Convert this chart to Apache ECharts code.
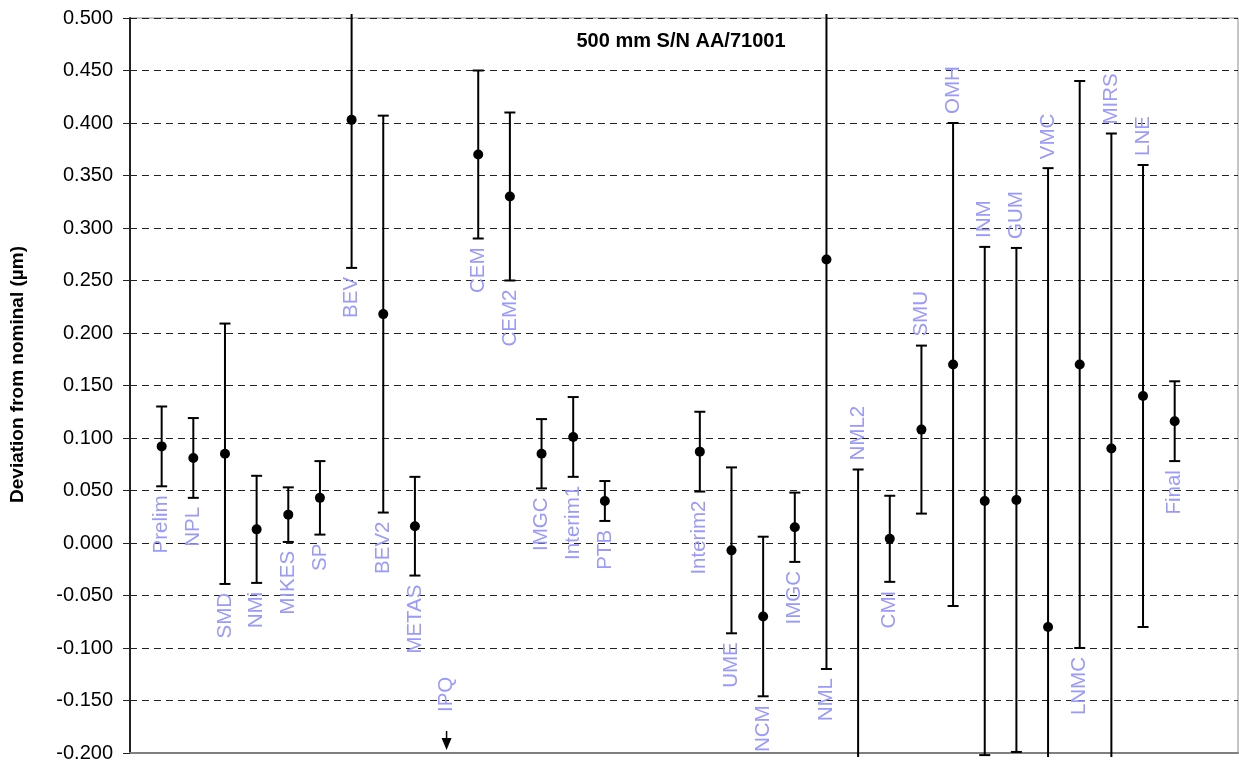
<!DOCTYPE html>
<html>
<head>
<meta charset="utf-8">
<title>500 mm S/N AA/71001</title>
<script src="https://cdn.jsdelivr.net/npm/echarts@6/dist/echarts.min.js"></script>
<style>
  html, body { margin: 0; padding: 0; background: #fff; }
  #main { width: 1239px; height: 764px; }
</style>
</head>
<body>
<div id="main"></div>
<script>
// slots along the x axis ('' = empty slot)
const categories = ['', 'Prelim', 'NPL', 'SMD', 'NMi', 'MIKES', 'SP', 'BEV', 'BEV2', 'METAS', 'IPQ',
  'CEM', 'CEM2', 'IMGC', 'Interim1', 'PTB', '', '', 'Interim2', 'UME', 'NCM', 'IMGC', 'NML', 'NML2',
  'CMI', 'SMU', 'OMH', 'INM', 'GUM', 'VMC', 'LNMC', 'MIRS', 'LNE', 'Final', '', '']
const means = [null, 0.092, 0.081, 0.085, 0.013, 0.027, 0.043, 0.403, 0.218, 0.016, null,
  0.370, 0.330, 0.085, 0.101, 0.040, null, null, 0.087, -0.007, -0.070, 0.015, 0.270, -0.230,
  0.004, 0.108, 0.170, 0.040, 0.041, -0.080, 0.170, 0.090, 0.140, 0.116, null, null]
const upperEnds = [null, 0.130, 0.119, 0.209, 0.064, 0.053, 0.078, 0.544, 0.407, 0.063, null,
  0.450, 0.410, 0.118, 0.139, 0.059, null, null, 0.125, 0.072, 0.006, 0.048, 0.660, 0.070,
  0.045, 0.188, 0.400, 0.282, 0.281, 0.357, 0.440, 0.390, 0.360, 0.154, null, null]
const lowerEnds = [null, 0.054, 0.043, -0.039, -0.038, 0.001, 0.008, 0.262, 0.029, -0.031, null,
  0.290, 0.250, 0.052, 0.063, 0.021, null, null, 0.049, -0.086, -0.146, -0.018, -0.120, -0.530,
  -0.037, 0.028, -0.060, -0.202, -0.199, -0.517, -0.100, -0.210, -0.080, 0.078, null, null]
// result below the bottom of the scale, shown with an arrow
const belowScale = ['IPQ']
// y axis ticks
const yMin = -0.2
const yMax = 0.5
const yStep = 0.05

// labels written above the upper end instead of under the lower end
const labelsAbove = ['NML2', 'SMU', 'OMH', 'INM', 'GUM', 'VMC', 'MIRS', 'LNE']
const labelColor = '#9999ff'
const labelFont = '20.5px "Liberation Sans", Arial, sans-serif'

const barData = []
categories.forEach((c, i) => {
  if (c && means[i] != null) barData.push([i, means[i], upperEnds[i], lowerEnds[i]])
})
const arrowData = []
categories.forEach((c, i) => {
  if (belowScale.indexOf(c) >= 0) arrowData.push([i, yMin])
})

function labelEl(text, x, y, above) {
  return {
    type: 'text',
    x: x,
    y: y,
    rotation: Math.PI / 2,
    style: {
      text: text,
      fill: labelColor,
      font: labelFont,
      align: above ? 'left' : 'right',
      verticalAlign: 'middle',
    },
  }
}

function renderBar(params, api) {
  const i = api.value(0)
  const cs = params.coordSys
  const top = cs.y
  const bottom = cs.y + cs.height
  const x = api.coord([i, 0])[0]
  const yM = api.coord([i, api.value(1)])[1]
  const yHi = api.coord([i, api.value(2)])[1]
  const yLo = api.coord([i, api.value(3)])[1]
  const y1 = Math.max(yHi, top - 4)
  const y2 = Math.min(yLo, bottom + 4)
  const lineStyle = { stroke: '#000', lineWidth: 2 }
  const children = [
    { type: 'line', shape: { x1: x, y1: y1, x2: x, y2: y2 }, style: lineStyle },
  ]
  if (yHi >= top - 4) {
    children.push({ type: 'line', shape: { x1: x - 5.5, y1: yHi, x2: x + 5.5, y2: yHi }, style: lineStyle })
  }
  if (yLo <= bottom + 4) {
    children.push({ type: 'line', shape: { x1: x - 5.5, y1: yLo, x2: x + 5.5, y2: yLo }, style: lineStyle })
  }
  if (yM >= top && yM <= bottom) {
    children.push({ type: 'circle', shape: { cx: x, cy: yM, r: 5 }, style: { fill: '#000' } })
  }
  const name = categories[i]
  const above = labelsAbove.indexOf(name) >= 0
  children.push(labelEl(name, x, above ? yHi - 9 : yLo + 9, above))
  return { type: 'group', children: children }
}

function renderArrow(params, api) {
  const i = api.value(0)
  const p = api.coord([i, api.value(1)])
  const x = p[0]
  const yb = p[1] - 3
  return {
    type: 'group',
    children: [
      { type: 'line', shape: { x1: x, y1: yb - 19, x2: x, y2: yb - 10 }, style: { stroke: '#000', lineWidth: 1.5 } },
      { type: 'polygon', shape: { points: [[x - 5, yb - 12], [x + 5, yb - 12], [x, yb]] }, style: { fill: '#000' } },
      labelEl(categories[i], x, yb - 38, true),
    ],
  }
}

const myChart = echarts.init(document.getElementById('main'))
const option = {
  backgroundColor: '#fff',
  animation: false,
  textStyle: { fontFamily: '"Liberation Sans", Arial, sans-serif' },
  graphic: [
    {
      type: 'text',
      x: 681,
      y: 41,
      style: {
        text: '500 mm S/N AA/71001',
        font: 'bold 20px "Liberation Sans", Arial, sans-serif',
        fill: '#000',
        align: 'center',
        verticalAlign: 'middle',
      },
    },
  ],
  grid: {
    left: 129,
    right: 1,
    top: 18,
    bottom: 11,
    show: true,
    borderColor: '#8c8c8c',
    borderWidth: 1,
    backgroundColor: '#fff',
  },
  xAxis: {
    type: 'value',
    min: 0,
    max: categories.length - 1,
    axisLine: { show: true, onZero: false, lineStyle: { color: '#7f7f7f', width: 2 } },
    axisTick: { show: false },
    axisLabel: { show: false },
    splitLine: { show: false },
  },
  yAxis: {
    type: 'value',
    min: yMin,
    max: yMax,
    interval: yStep,
    name: 'Deviation from nominal (µm)',
    nameLocation: 'middle',
    nameGap: 103,
    nameTextStyle: { fontSize: 19, fontWeight: 'bold', color: '#000', padding: [0, 0, 0, 22] },
    axisLine: { show: true, onZero: false, lineStyle: { color: '#222', width: 2 } },
    axisTick: { show: true, length: 7, lineStyle: { color: '#222' } },
    axisLabel: {
      fontSize: 20,
      color: '#000',
      margin: 17,
      formatter: (v) => v.toFixed(3),
    },
    splitLine: { show: true, lineStyle: { type: [7, 5], color: '#222', width: 1 } },
  },
  series: [
    {
      type: 'custom',
      renderItem: renderBar,
      data: barData,
      encode: { x: 0, y: [1, 2, 3] },
      z: 3,
    },
    {
      type: 'custom',
      renderItem: renderArrow,
      data: arrowData,
      encode: { x: 0, y: 1 },
      z: 3,
    },
  ],
}
myChart.setOption(option)
</script>
</body>
</html>
